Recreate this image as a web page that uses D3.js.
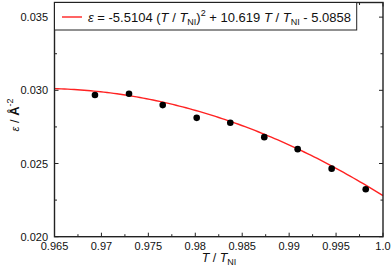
<!DOCTYPE html>
<html>
<head>
<meta charset="utf-8">
<script src="https://cdn.jsdelivr.net/npm/d3@7"></script>
<style>
  body { margin: 0; background: #fff; }
  svg { display: block; font-family: "Liberation Sans", Arial, sans-serif; }
</style>
</head>
<body>
<svg id="chart" width="391" height="272"></svg>
<script>
// measured points
var tRatio = [0.96931, 0.97294, 0.97653, 0.98015, 0.98373, 0.98735, 0.99091, 0.99453, 0.99816];
var eps = [0.02968, 0.02977, 0.02899, 0.02812, 0.02778, 0.02680, 0.02598, 0.02465, 0.02324];

// fit coefficients a*x^2 + b*x + c (from legend)
var fitCoef = [-5.5104, 10.619, -5.0858];

var xTicks = [0.965, 0.97, 0.975, 0.98, 0.985, 0.99, 0.995, 1.0];
var xTickLabels = ["0.965", "0.97", "0.975", "0.98", "0.985", "0.99", "0.995", "1.0"];
var yTicks = [0.020, 0.025, 0.030, 0.035];
var yTickLabels = ["0.020", "0.025", "0.030", "0.035"];

var svg = d3.select('#chart');
var pL = 54.5, pR = 383, pT = 2.5, pB = 236.7;

var x = d3.scaleLinear().domain([0.965, 1.0]).range([pL, pR]);
var y = d3.scaleLinear().domain([0.020, 0.036]).range([pB, pT]);

var xMinor = d3.range(0, 15).map(function (i) { return 0.965 + i * 0.0025; });
var yMinor = d3.range(0, 7).map(function (i) { return 0.020 + i * 0.0025; });

var axisColor = '#222';

// fit curve
var curvePts = d3.range(0, 101).map(function (i) {
	var t = 0.965 + i * 0.035 / 100;
	return [t, fitCoef[0] * t * t + fitCoef[1] * t + fitCoef[2]];
});
svg.append('path')
	.datum(curvePts)
	.attr('fill', 'none')
	.attr('stroke', '#f22')
	.attr('stroke-width', 1.4)
	.attr('d', d3.line().x(function (d) { return x(d[0]); }).y(function (d) { return y(d[1]); }));

// points
svg.selectAll('circle.pt')
	.data(tRatio)
	.enter()
	.append('circle')
	.attr('class', 'pt')
	.attr('cx', function (d) { return x(d); })
	.attr('cy', function (d, i) { return y(eps[i]); })
	.attr('r', 3.3)
	.attr('fill', '#000');

// ticks on all four sides, pointing inward
var ticks = svg.append('g').attr('stroke', axisColor).attr('stroke-width', 1);
xMinor.forEach(function (v, i) {
	var len = i % 2 === 0 ? 4 : 2.5;
	ticks.append('line').attr('x1', x(v)).attr('x2', x(v)).attr('y1', pB).attr('y2', pB - len);
	ticks.append('line').attr('x1', x(v)).attr('x2', x(v)).attr('y1', pT).attr('y2', pT + len);
});
yMinor.forEach(function (v, i) {
	var len = i % 2 === 0 ? 4 : 2.5;
	ticks.append('line').attr('x1', pL).attr('x2', pL + len).attr('y1', y(v)).attr('y2', y(v));
	ticks.append('line').attr('x1', pR).attr('x2', pR - len).attr('y1', y(v)).attr('y2', y(v));
});

// frame
svg.append('rect')
	.attr('x', pL).attr('y', pT)
	.attr('width', pR - pL).attr('height', pB - pT)
	.attr('fill', 'none').attr('stroke', axisColor).attr('stroke-width', 1.4);

// tick labels
svg.selectAll('text.xt')
	.data(xTicks)
	.enter()
	.append('text')
	.attr('class', 'xt')
	.attr('x', function (d) { return x(d); })
	.attr('y', 250)
	.attr('text-anchor', 'middle')
	.attr('font-size', 11)
	.attr('fill', '#111')
	.text(function (d, i) { return xTickLabels[i]; });

svg.selectAll('text.yt')
	.data(yTicks)
	.enter()
	.append('text')
	.attr('class', 'yt')
	.attr('x', 48)
	.attr('y', function (d) { return y(d) + 4; })
	.attr('text-anchor', 'end')
	.attr('font-size', 11)
	.attr('fill', '#111')
	.text(function (d, i) { return yTickLabels[i]; });

// axis titles
var xt = svg.append('text')
	.attr('x', 219).attr('y', 262)
	.attr('text-anchor', 'middle')
	.attr('font-size', 12.5)
	.attr('fill', '#111');
xt.append('tspan').attr('font-style', 'italic').text('T');
xt.append('tspan').text(' / ');
xt.append('tspan').attr('font-style', 'italic').text('T');
xt.append('tspan').attr('font-size', 9).attr('dy', 3).text('NI');

var yt = svg.append('text')
	.attr('transform', 'translate(19,115) rotate(-90)')
	.attr('text-anchor', 'middle')
	.attr('font-size', 13)
	.attr('fill', '#111');
yt.append('tspan').attr('font-style', 'italic').attr('font-size', 11).text('ε');
yt.append('tspan').text(' / ');
yt.append('tspan').attr('font-weight', 'bold').text('Å');
yt.append('tspan').attr('font-size', 9).attr('dy', -6).text('-2');

// legend
var lg = svg.append('g');
lg.append('rect')
	.attr('x', pL).attr('y', pT)
	.attr('width', 356.7 - pL).attr('height', 30 - pT)
	.attr('fill', '#fff').attr('stroke', axisColor).attr('stroke-width', 1);
lg.append('line')
	.attr('x1', 62).attr('x2', 82).attr('y1', 17).attr('y2', 17)
	.attr('stroke', '#f22').attr('stroke-width', 1.4);
var lt = lg.append('text')
	.attr('x', 88).attr('y', 22)
	.attr('font-size', 13)
	.attr('fill', '#111');
lt.append('tspan').attr('font-style', 'italic').text('ε');
lt.append('tspan').text(' = -5.5104 (');
lt.append('tspan').attr('font-style', 'italic').text('T');
lt.append('tspan').text(' / ');
lt.append('tspan').attr('font-style', 'italic').text('T');
lt.append('tspan').attr('font-size', 9).attr('dy', 3).text('NI');
lt.append('tspan').attr('dy', -3).text(')');
lt.append('tspan').attr('font-size', 9).attr('dy', -6).text('2');
lt.append('tspan').attr('dy', 6).text(' + 10.619 ');
lt.append('tspan').attr('font-style', 'italic').text('T');
lt.append('tspan').text(' / ');
lt.append('tspan').attr('font-style', 'italic').text('T');
lt.append('tspan').attr('font-size', 9).attr('dy', 3).text('NI');
lt.append('tspan').attr('dy', -3).text(' - 5.0858');
</script>
</body>
</html>
